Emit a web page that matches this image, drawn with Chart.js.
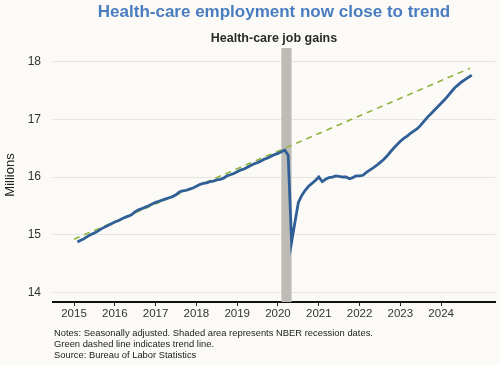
<!DOCTYPE html>
<html>
<head>
<meta charset="utf-8">
<script src="https://cdn.jsdelivr.net/npm/chart.js@4"></script>
<style>
    html, body { margin: 0; padding: 0; background: #fbfaf7; }
    #wrap { position: relative; width: 500px; height: 365px; font-family: "Liberation Sans", Arial, sans-serif; }
    #chart { position: absolute; left: 0; top: 0; }
    .title { position: absolute; left: 53px; width: 442px; text-align: center; font-weight: bold; white-space: nowrap; }
    #title { top: 2px; font-size: 17px; color: #4a7dc0; }
    #subtitle { top: 31px; font-size: 12.5px; color: #2b2b2b; }
    #notes { position: absolute; left: 54px; top: 327px; font-size: 9.4px; line-height: 11px; color: #222; }
</style>
</head>
<body>
<div id="wrap">
    <canvas id="chart" width="500" height="365"></canvas>
    <div class="title" id="title">Health-care employment now close to trend</div>
    <div class="title" id="subtitle">Health-care job gains</div>
    <div id="notes">
        Notes: Seasonally adjusted. Shaded area represents NBER recession dates.<br>
        Green dashed line indicates trend line.<br>
        Source: Bureau of Labor Statistics
    </div>
</div>
<script>
// monthly health-care employment, millions, Jan 2015 - Sep 2024
const startYear = 2015;
const employment2015 = [14.87, 14.90, 14.93, 14.97, 15.00, 15.03, 15.06, 15.10, 15.13, 15.16, 15.19, 15.22];
const employment2016 = [15.24, 15.27, 15.30, 15.32, 15.35, 15.40, 15.43, 15.45, 15.48, 15.50, 15.53, 15.56];
const employment2017 = [15.58, 15.60, 15.62, 15.64, 15.66, 15.69, 15.74, 15.76, 15.77, 15.79, 15.81, 15.84];
const employment2018 = [15.87, 15.89, 15.90, 15.92, 15.93, 15.95, 15.96, 15.98, 16.02, 16.04, 16.06, 16.09];
const employment2019 = [16.12, 16.14, 16.17, 16.20, 16.23, 16.25, 16.28, 16.31, 16.33, 16.36, 16.39, 16.41];
const employment2020 = [16.44, 16.47, 16.38, 14.87, 15.22, 15.56, 15.68, 15.77, 15.84, 15.89, 15.94, 16.00];
const employment2021 = [15.92, 15.96, 15.99, 16.00, 16.02, 16.01, 16.00, 16.00, 15.97, 15.99, 16.02, 16.02];
const employment2022 = [16.03, 16.08, 16.12, 16.16, 16.20, 16.25, 16.30, 16.36, 16.43, 16.50, 16.56, 16.62];
const employment2023 = [16.67, 16.71, 16.76, 16.80, 16.84, 16.90, 16.97, 17.04, 17.10, 17.16, 17.22, 17.28];
const employment2024 = [17.34, 17.41, 17.48, 17.55, 17.60, 17.65, 17.69, 17.73, 17.77];

// trend line end points (decimal year, millions)
const trendX = [2015.0, 2024.71];
const trendY = [14.92, 17.89];

// NBER recession, decimal years
const recession = [2020.083, 2020.333];

const xTicks = [2015, 2016, 2017, 2018, 2019, 2020, 2021, 2022, 2023, 2024];
const yTicks = [14, 15, 16, 17, 18];

const employment = [].concat(employment2015, employment2016, employment2017, employment2018,
    employment2019, employment2020, employment2021, employment2022, employment2023, employment2024);

// each month plotted at its end
const employmentPoints = employment.map((v, i) => ({ x: startYear + (i + 1) / 12, y: v }));
const trendPoints = trendX.map((x, i) => ({ x: x, y: trendY[i] }));

const recessionShade = {
    id: 'recessionShade',
    beforeDatasetsDraw(chart) {
        const { ctx, chartArea, scales } = chart;
        const x0 = scales.x.getPixelForValue(recession[0]);
        const x1 = scales.x.getPixelForValue(recession[1]);
        ctx.save();
        ctx.fillStyle = '#bdbbb6';
        ctx.fillRect(x0, chartArea.top, x1 - x0, chartArea.bottom - chartArea.top);
        ctx.restore();
    }
};

new Chart(document.getElementById('chart'), {
    type: 'line',
    data: {
        datasets: [
            {
                label: 'Health-care employment',
                data: employmentPoints,
                borderColor: '#2f5f96',
                borderWidth: 2.8,
                pointRadius: 0,
                tension: 0,
                order: 1
            },
            {
                label: 'Trend',
                data: trendPoints,
                borderColor: '#8fb43e',
                borderWidth: 1.6,
                borderDash: [6, 5],
                pointRadius: 0,
                order: 2
            }
        ]
    },
    options: {
        responsive: false,
        animation: false,
        layout: { padding: { top: 48, right: 5, bottom: 38, left: 0 } },
        plugins: {
            legend: { display: false },
            tooltip: { enabled: false }
        },
        scales: {
            x: {
                type: 'linear',
                min: 2014.485,
                max: 2025.32,
                afterBuildTicks: scale => { scale.ticks = xTicks.map(v => ({ value: v })); },
                afterFit: scale => { scale.height = 25; },
                grid: {
                    drawOnChartArea: false,
                    drawTicks: true,
                    tickLength: 4,
                    color: '#222'
                },
                border: { display: true, color: '#111', width: 2 },
                ticks: {
                    color: '#333',
                    font: { family: 'Liberation Sans', size: 11.5 },
                    padding: 1,
                    maxRotation: 0,
                    callback: v => String(v)
                }
            },
            y: {
                type: 'linear',
                min: 13.83,
                max: 18.24,
                afterBuildTicks: scale => { scale.ticks = yTicks.map(v => ({ value: v })); },
                afterFit: scale => { scale.width = 53; },
                grid: { color: '#e6e4e0', drawTicks: false, lineWidth: 1 },
                border: { display: false },
                ticks: {
                    color: '#333',
                    font: { family: 'Liberation Sans', size: 12 },
                    padding: 12
                },
                title: {
                    display: true,
                    text: 'Millions',
                    color: '#222',
                    font: { family: 'Liberation Sans', size: 13 },
                    padding: { top: 3, bottom: 0 }
                }
            }
        }
    },
    plugins: [recessionShade]
});
</script>
</body>
</html>
